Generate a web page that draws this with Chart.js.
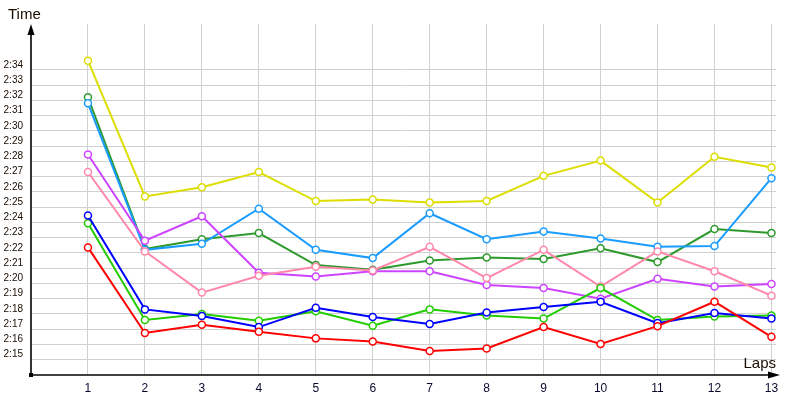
<!DOCTYPE html>
<html>
<head>
<meta charset="utf-8">
<script src="https://cdn.jsdelivr.net/npm/chart.js@4/dist/chart.umd.min.js"></script>
<style>
  html, body { margin: 0; padding: 0; background: #fff; }
  #c { display: block; }
</style>
</head>
<body>
<canvas id="c" width="800" height="400"></canvas>
<script>
// Lap numbers (x) and lap times in seconds (y)
const laps = [1, 2, 3, 4, 5, 6, 7, 8, 9, 10, 11, 12, 13];
const yellowTimes    = [154.6, 145.7, 146.3, 147.3, 145.4, 145.5, 145.3, 145.4, 147.05, 148.05, 145.3, 148.3, 147.6];
const darkGreenTimes = [152.2, 142.25, 142.9, 143.3, 141.2, 140.9, 141.5, 141.7, 141.6, 142.3, 141.4, 143.56, 143.3];
const skyBlueTimes   = [151.8, 142.2, 142.6, 144.9, 142.2, 141.66, 144.6, 142.9, 143.4, 142.95, 142.4, 142.45, 146.9];
const purpleTimes    = [148.45, 142.8, 144.4, 140.7, 140.46, 140.8, 140.8, 139.9, 139.7, 139.0, 140.3, 139.8, 139.96];
const pinkTimes      = [147.3, 142.1, 139.4, 140.5, 141.1, 140.85, 142.4, 140.35, 142.2, 139.8, 142.1, 140.8, 139.2];
const greenTimes     = [143.95, 137.6, 138.0, 137.56, 138.17, 137.23, 138.3, 137.9, 137.7, 139.7, 137.6, 137.84, 137.9];
const blueTimes      = [144.45, 138.3, 137.86, 137.14, 138.4, 137.8, 137.34, 138.1, 138.45, 138.8, 137.4, 138.06, 137.7];
const redTimes       = [142.36, 136.75, 137.3, 136.84, 136.4, 136.2, 135.57, 135.74, 137.14, 136.03, 137.2, 138.8, 136.5];

// Y tick values (seconds) shown as m:ss labels
const yTickValues = [135, 136, 137, 138, 139, 140, 141, 142, 143, 144, 145, 146, 147, 148, 149, 150, 151, 152, 153, 154];

const xMin = 0, xMax = 13.08;
const yMin = 134, yMax = 157;

function fmtTime(v) {
  const m = Math.floor(v / 60);
  const s = Math.round(v - m * 60);
  return m + ':' + (s < 10 ? '0' : '') + s;
}

function mk(data, color) {
  return {
    data: laps.map((l, i) => ({ x: l, y: data[i] })),
    borderColor: color,
    backgroundColor: '#ffffff',
    pointBackgroundColor: '#ffffff',
    pointBorderColor: color,
    pointBorderWidth: 1.5,
    pointRadius: 3.5,
    borderWidth: 2,
    tension: 0,
    fill: false
  };
}

const axesPlugin = {
  id: 'axesDecor',
  afterDraw(chart) {
    const ctx = chart.ctx;
    const a = chart.chartArea;
    const xs = chart.scales.x, ys = chart.scales.y;
    const ox = xs.getPixelForValue(0);
    const oy = ys.getPixelForValue(yMin);
    ctx.save();
    ctx.strokeStyle = '#000';
    ctx.fillStyle = '#000';
    ctx.lineWidth = 1.6;
    // y axis
    ctx.beginPath();
    ctx.moveTo(ox, oy);
    ctx.lineTo(ox, a.top + 8);
    ctx.stroke();
    ctx.beginPath();
    ctx.moveTo(ox, a.top);
    ctx.lineTo(ox - 3.5, a.top + 11);
    ctx.lineTo(ox + 3.5, a.top + 11);
    ctx.closePath();
    ctx.fill();
    // x axis
    const xEnd = a.right + 4;
    ctx.beginPath();
    ctx.moveTo(ox, oy);
    ctx.lineTo(xEnd - 8, oy);
    ctx.stroke();
    ctx.beginPath();
    ctx.moveTo(xEnd, oy);
    ctx.lineTo(xEnd - 12, oy - 3.5);
    ctx.lineTo(xEnd - 12, oy + 3.5);
    ctx.closePath();
    ctx.fill();
    // origin marker
    ctx.fillRect(ox - 2, oy - 2, 4, 4);
    // axis titles
    ctx.font = '15px "Liberation Sans", Arial, sans-serif';
    ctx.fillStyle = '#1a0d00';
    ctx.textBaseline = 'middle';
    ctx.textAlign = 'left';
    ctx.fillText('Time', 8, 15);
    ctx.textAlign = 'right';
    ctx.fillText('Laps', xEnd - 4, oy - 11);
    ctx.restore();
  }
};

new Chart(document.getElementById('c'), {
  type: 'line',
  data: {
    datasets: [
      mk(redTimes, '#ff0000'),
      mk(blueTimes, '#0000ff'),
      mk(greenTimes, '#22cc00'),
      mk(pinkTimes, '#ff88aa'),
      mk(purpleTimes, '#cc44ff'),
      mk(skyBlueTimes, '#1a9cff'),
      mk(darkGreenTimes, '#2e9a2e'),
      mk(yellowTimes, '#dddd00')
    ]
  },
  options: {
    responsive: false,
    animation: false,
    layout: { padding: { top: 24, right: 24, left: 0, bottom: 0 } },
    plugins: { legend: { display: false }, tooltip: { enabled: false } },
    scales: {
      x: {
        type: 'linear',
        min: xMin, max: xMax,
        afterFit(scale) { scale.height = 25; },
        afterBuildTicks(scale) { scale.ticks = laps.map(v => ({ value: v })); },
        border: { display: false },
        grid: {
          drawTicks: false,
          lineWidth: 1,
          color: '#d0d0d0'
        },
        ticks: {
          padding: 6,
          maxRotation: 0,
          autoSkip: false,
          color: '#0a0a30',
          font: { family: '"Liberation Sans", Arial, sans-serif', size: 12 },
          callback: (v) => String(v)
        }
      },
      y: {
        type: 'linear',
        min: yMin, max: yMax,
        afterFit(scale) { scale.width = 31; },
        afterBuildTicks(scale) { scale.ticks = yTickValues.map(v => ({ value: v })); },
        border: { display: false },
        grid: {
          drawTicks: false,
          lineWidth: 1,
          color: '#d0d0d0'
        },
        ticks: {
          padding: 8,
          labelOffset: -5,
          autoSkip: false,
          color: '#1a0d00',
          font: { family: '"Liberation Sans", Arial, sans-serif', size: 10 },
          callback: (v) => fmtTime(v)
        }
      }
    }
  },
  plugins: [axesPlugin]
});
</script>
</body>
</html>
